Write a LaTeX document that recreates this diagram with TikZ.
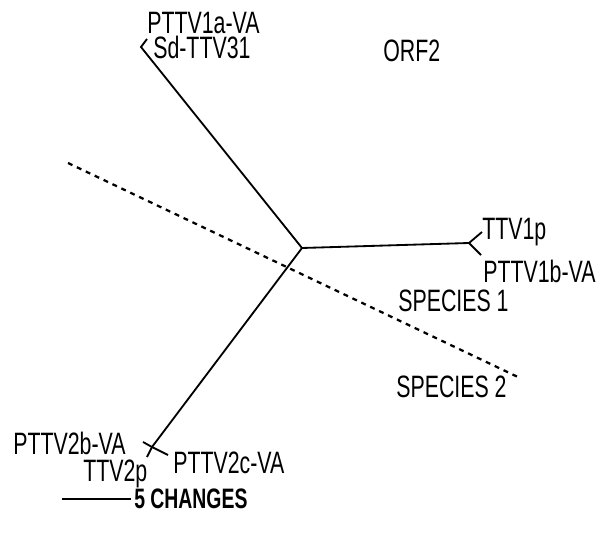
\documentclass[tikz,border=0pt]{standalone}
\usepackage{fontspec}
\setmainfont{Liberation Sans}[FakeStretch=0.69]
\usetikzlibrary{positioning}

\begin{document}
\begin{tikzpicture}[x=0.025cm, y=-0.025cm,
    lbl/.style={font=\fontsize{22}{24}\selectfont, inner sep=0pt, anchor=base west},
    branch/.style={line width=1.3pt},
    split/.style={line width=1.6pt, dash pattern=on 3.5pt off 3.5pt}]
    \useasboundingbox (0,0) rectangle (598,537);

    % tree junctions and leaf ends
    \coordinate (Root) at (302,248);
    \coordinate (Top) at (141,47);
    \coordinate (TopLeaf) at (147,39);
    \coordinate (Right) at (469,243);
    \coordinate (RightUp) at (482,232);
    \coordinate (RightDown) at (481,255);
    \coordinate (Bottom) at (152,447);
    \coordinate (BottomB) at (143,442);
    \coordinate (BottomP) at (147,457);
    \coordinate (BottomC) at (168,455);

    \draw [branch] (Root) -- (Top) -- (TopLeaf);
    \draw [branch] (Root) -- (Right);
    \draw [branch] (RightUp) -- (Right) -- (RightDown);
    \draw [branch] (Root) -- (Bottom) -- (BottomP);
    \draw [branch] (BottomB) -- (Bottom) -- (BottomC);

    % species border
    \coordinate (SplitA) at (68,163);
    \coordinate (SplitB) at (520,378);
    \draw [split] (SplitA) -- (SplitB);

    \node [lbl] (P1a) at (147,34) {PTTV1a-VA};
    \node [lbl] (Sd) at (153,59) {Sd-TTV31};
    \node [lbl] (Orf) at (383,62) {ORF2};
    \node [lbl] (T1p) at (482,240) {TTV1p};
    \node [lbl] (P1b) at (483,282) {PTTV1b-VA};
    \node [lbl] (Sp1) at (398,311) {SPECIES 1};
    \node [lbl] (Sp2) at (396,397) {SPECIES 2};
    \node [lbl] (P2b) at (13,454) {PTTV2b-VA};
    \node [lbl] (T2p) at (83,481) {TTV2p};
    \node [lbl] (P2c) at (173,473) {PTTV2c-VA};

    % scale bar
    \node [lbl, font=\fontsize{20}{22}\selectfont\bfseries] (Scale) at (134,508) {5 CHANGES};
    \coordinate (BarL) at (62,499);
    \draw [line width=1pt] (BarL) -- ([xshift=-2pt]Scale.west |- BarL);
\end{tikzpicture}
\end{document}
